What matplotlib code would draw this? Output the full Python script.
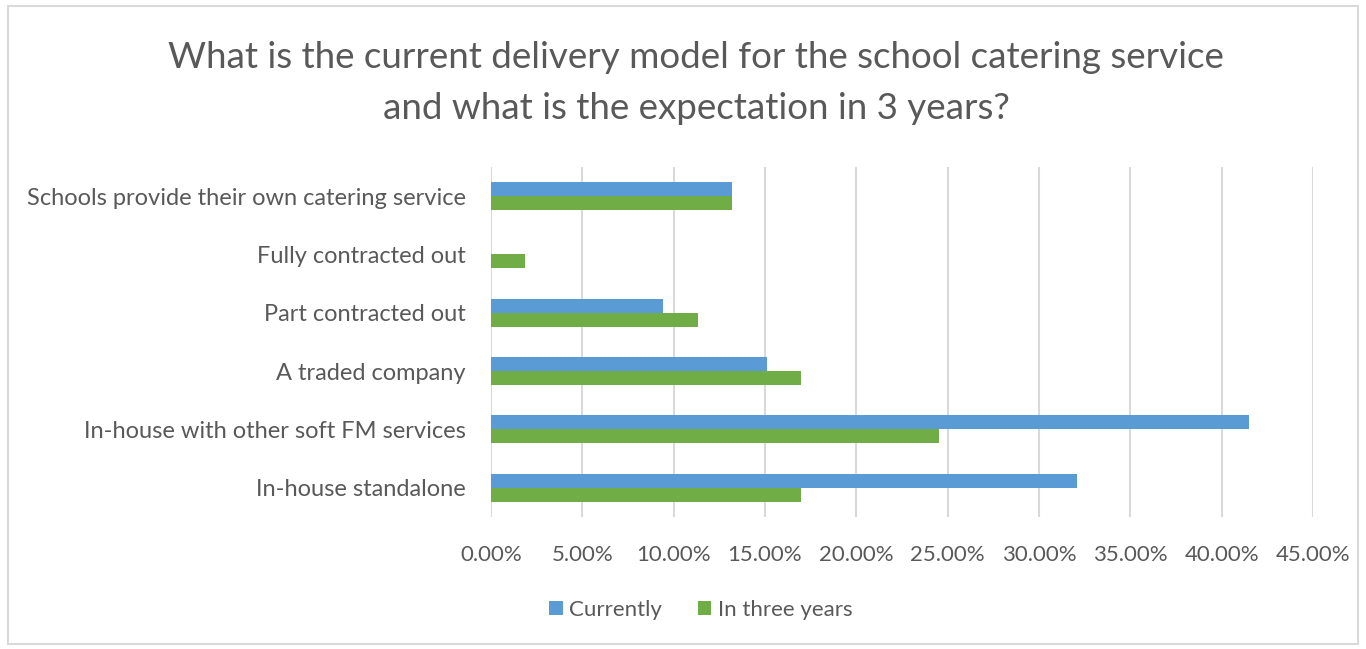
import numpy as np
import matplotlib.pyplot as plt
from matplotlib.patches import Rectangle
from matplotlib.ticker import FuncFormatter

categories = [
    "Schools provide their own catering service",
    "Fully contracted out",
    "Part contracted out",
    "A traded company",
    "In-house with other soft FM services",
    "In-house standalone",
]
currently = [0.1321, 0.0, 0.0943, 0.1509, 0.4151, 0.3208]
in_three_years = [0.1321, 0.0189, 0.1132, 0.1698, 0.2453, 0.1698]
series_names = ["Currently", "In three years"]

BLUE = "#5B9BD5"
GREEN = "#70AD47"
TEXT = "#595959"
GRID = "#D9D9D9"

plt.rcParams["font.family"] = ["Lato", "DejaVu Sans"]

fig = plt.figure(figsize=(13.66, 6.49), dpi=100)
ax = fig.add_axes([0.3594, 0.2034, 0.6018, 0.5393])

# chart frame
fig.patches.append(Rectangle((0.006, 0.008), 0.988, 0.982, transform=fig.transFigure,
                             fill=False, edgecolor=GRID, linewidth=1.5))

y = np.arange(len(categories))
h = 0.24
ax.barh(y - h / 2, currently, height=h, color=BLUE, label=series_names[0])
ax.barh(y + h / 2, in_three_years, height=h, color=GREEN, label=series_names[1])

ax.set_ylim(len(categories) - 0.5, -0.5)
ax.set_xlim(0, 0.45)
ax.set_xticks(np.arange(0, 0.4501, 0.05))
ax.xaxis.set_major_formatter(FuncFormatter(lambda v, _: f"{v * 100:.2f}%"))
ax.set_yticks(y)
ax.set_yticklabels(categories)

ax.grid(True, axis="x", color=GRID, linewidth=1.5)
ax.set_axisbelow(True)
for s in ax.spines.values():
    s.set_visible(False)
ax.tick_params(axis="both", length=0, colors=TEXT)
ax.tick_params(axis="y", pad=18, labelsize=17)
ax.tick_params(axis="x", pad=20, labelsize=16)

fig.text(0.5095, 0.872,
         "What is the current delivery model for the school catering service\n"
         "and what is the expectation in 3 years?",
         ha="center", va="center", fontsize=26.5, color=TEXT, linespacing=1.65)

fig.legend(loc="center", bbox_to_anchor=(0.513, 0.06), ncol=2, frameon=False,
           fontsize=16, labelcolor=TEXT, handlelength=0.6, handleheight=0.6,
           handletextpad=0.3, columnspacing=1.6)

fig.savefig("out.png", dpi=100)
